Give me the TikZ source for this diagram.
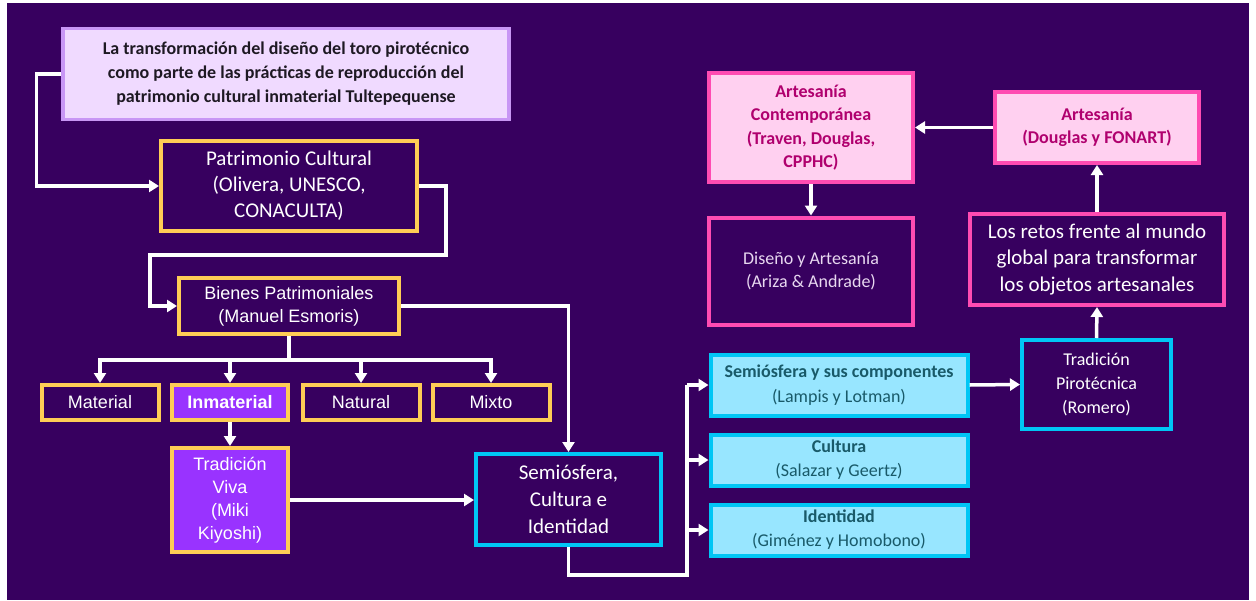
\documentclass[tikz,border=0pt]{standalone}
\usepackage{fontspec}
\setmainfont{Carlito}
\newfontfamily\arialf{Liberation Sans}
\usetikzlibrary{arrows.meta,calc}
\definecolor{bg}{RGB}{55,0,95}
\definecolor{ycol}{RGB}{255,205,85}
\definecolor{titlefill}{RGB}{240,218,255}
\definecolor{titledraw}{RGB}{200,150,245}
\definecolor{purp}{RGB}{153,51,255}
\definecolor{cyanb}{RGB}{0,198,245}
\definecolor{cyanf}{RGB}{152,230,255}
\definecolor{pinkb}{RGB}{255,75,178}
\definecolor{pinkf}{RGB}{255,208,240}
\definecolor{mag}{RGB}{176,0,110}
\definecolor{tealt}{RGB}{25,90,105}
\definecolor{lav}{RGB}{232,216,240}
\definecolor{dark}{RGB}{30,25,35}
\tikzset{
  base/.style={line width=4pt, align=center, inner sep=0pt},
  ybox/.style={base, draw=ycol, fill=bg, text=white, font=\arialf\fontsize{18}{23}\selectfont},
  titlebox/.style={base, line width=3.5pt, draw=titledraw, fill=titlefill, text=dark, font=\bfseries\fontsize{18}{24}\selectfont},
  cbox/.style={base, draw=cyanb, fill=bg, text=white},
  lcbox/.style={base, draw=cyanb, fill=cyanf, text=tealt, font=\fontsize{18}{25}\selectfont},
  pbox/.style={base, draw=pinkb, fill=pinkf, text=mag, font=\bfseries\fontsize{18}{23.5}\selectfont},
  dpbox/.style={base, draw=pinkb, fill=bg, text=white},
  wline/.style={draw=white, line width=3.5pt},
  arr/.style={wline, -{Triangle[length=10pt,width=12pt]}},
}
\begin{document}
\begin{tikzpicture}[x=1pt,y=-1pt]
\useasboundingbox (0,0) rectangle (1256,600);
\fill[white] (0,0) rectangle (1256,600);
\fill[bg] (7,3) rectangle (1249,600);

% left column
\node[titlebox, minimum width=446, minimum height=91] (title) at (286,74)
  {La transformación del diseño del toro pirotécnico\\como parte de las prácticas de reproducción del\\patrimonio cultural inmaterial Tultepequense};
\node[ybox, minimum width=256, minimum height=90, font=\fontsize{21}{26}\selectfont] (patr) at (289,186)
  {Patrimonio Cultural\\(Olivera, UNESCO,\\CONACULTA)};
\node[ybox, minimum width=220, minimum height=56] (bienes) at (289,306)
  {Bienes Patrimoniales\\(Manuel Esmoris)};
\node[ybox, minimum width=117, minimum height=35] (material) at (100,402.5) {Material};
\node[ybox, minimum width=116, minimum height=35, fill=purp, font=\arialf\bfseries\fontsize{18}{23}\selectfont] (inmat) at (230,402.5) {Inmaterial};
\node[ybox, minimum width=117, minimum height=35] (natural) at (361,402.5) {Natural};
\node[ybox, minimum width=117, minimum height=35] (mixto) at (491,402.5) {Mixto};
\node[ybox, minimum width=116, minimum height=104, fill=purp] (tv) at (230,500)
  {Tradición\\Viva\\(Miki\\Kiyoshi)};
\node[cbox, minimum width=185, minimum height=91, font=\fontsize{21}{27}\selectfont] (semi) at (568.5,499.5)
  {Semiósfera,\\Cultura e\\Identidad};

% right lower
\node[lcbox, minimum width=257, minimum height=61] (semicomp) at (839,385)
  {\textbf{Semiósfera y sus componentes}\\(Lampis y Lotman)};
\node[lcbox, minimum width=257, minimum height=51, font=\fontsize{18}{24}\selectfont] (cultura) at (839,460)
  {\textbf{Cultura}\\(Salazar y Geertz)};
\node[lcbox, minimum width=257, minimum height=51, font=\fontsize{18}{24}\selectfont] (identidad) at (839,530)
  {\textbf{Identidad}\\(Giménez y Homobono)};
\node[cbox, minimum width=149, minimum height=89, font=\fontsize{18}{24}\selectfont] (tp) at (1096.5,384.5)
  {Tradición\\Pirotécnica\\(Romero)};

% right upper
\node[dpbox, minimum width=254, minimum height=91, font=\fontsize{21}{26.5}\selectfont] (retos) at (1097,259.5)
  {Los retos frente al mundo\\global para transformar\\los objetos artesanales};
\node[pbox, minimum width=204, minimum height=71] (art) at (1097,127.5)
  {Artesanía\\(Douglas y FONART)};
\node[pbox, minimum width=204, minimum height=109, font=\bfseries\fontsize{18}{23.3}\selectfont] (ac) at (811,127.5)
  {Artesanía\\Contemporánea\\(Traven, Douglas,\\CPPHC)};
\node[dpbox, minimum width=204, minimum height=107, text=lav, font=\fontsize{18}{23}\selectfont] (diseno) at (811,271)
  {Diseño y Artesanía\\(Ariza \& Andrade)};

% connectors
\coordinate (pb1) at (446,255);
\coordinate (pb2) at (150,255);
\coordinate (split) at (289,360);
\coordinate (sr) at (687,575);

\draw[arr] (title.west) -- ++(-25,0) |- (patr.west);
\draw[arr] (patr.east) -| (pb1) -- (pb2) |- (bienes.west);
\draw[arr] (bienes.east) -| (semi.north);
\draw[wline] (bienes.south) -- (split);
\draw[arr] (split) -| (material.north);
\draw[arr] (split) -| (inmat.north);
\draw[arr] (split) -| (natural.north);
\draw[arr] (split) -| (mixto.north);
\draw[arr] (inmat.south) -- (tv.north);
\draw[arr] (tv.east) -- (tv.east -| semi.west);
\draw[wline] (semi.south) |- (sr) -- (sr |- semicomp.west);
\draw[arr] (sr |- semicomp.west) -- (semicomp.west);
\draw[arr] (sr |- cultura.west) -- (cultura.west);
\draw[arr] (sr |- identidad.west) -- (identidad.west);
\draw[arr] (semicomp.east) -- (tp.west);
\draw[arr] (tp.north) -- (retos.south);
\draw[arr] (retos.north) -- (art.south);
\draw[arr] (art.west) -- (ac.east);
\draw[arr] (ac.south) -- (diseno.north);
\end{tikzpicture}
\end{document}
